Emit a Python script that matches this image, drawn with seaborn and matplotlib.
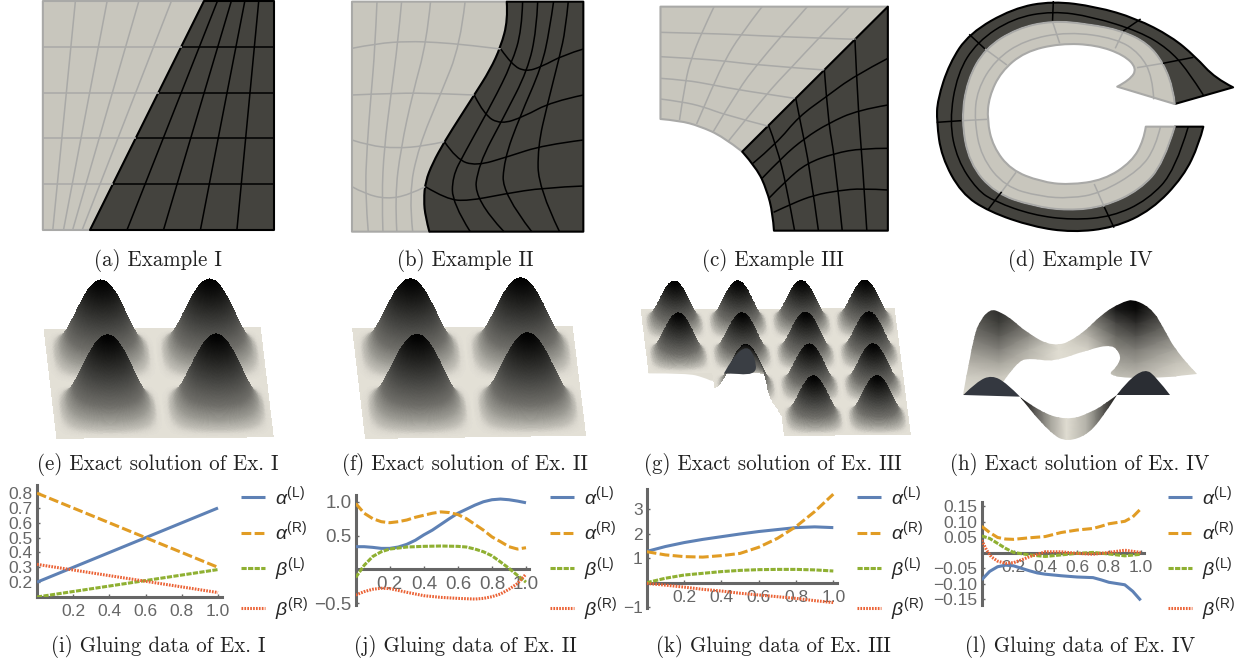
import numpy as np
import pandas as pd
import matplotlib
matplotlib.use("Agg")
import matplotlib.pyplot as plt
import seaborn as sns
from matplotlib.colors import LinearSegmentedColormap
from matplotlib.patches import PathPatch
from matplotlib.path import Path

sns.set_theme(style="white")
plt.rcParams['font.family'] = ['Liberation Sans', 'DejaVu Sans']
plt.rcParams['mathtext.fontset'] = 'custom'
plt.rcParams['mathtext.rm'] = 'Liberation Sans'
plt.rcParams['mathtext.it'] = 'Liberation Sans:italic'
plt.rcParams['mathtext.bf'] = 'Liberation Sans:bold'

# ---- gluing data ----
T2 = [0.0, 1.0]
T20 = [0, .05, .1, .15, .2, .25, .3, .35, .4, .45, .5, .55, .6, .65, .7, .75, .8, .85, .9, .95, 1]
T10 = [0, .1, .2, .3, .4, .5, .6, .7, .8, .9, 1]

I_AL = [.2, .7]
I_AR = [.8, .3]
I_BL = [.1, .285]
I_BR = [.32, .13]

J_AL = [.335, .335, .325, .31, .31, .33, .37, .43, .51, .58, .665, .75, .83, .89, .95, 1.0, 1.03, 1.04, 1.03, 1.01, .985]
J_AR = [.975, .83, .75, .705, .69, .705, .73, .77, .80, .83, .85, .84, .81, .75, .665, .58, .48, .41, .335, .30, .32]
J_BL_T = [0, .05, .1, .15, .2, .25, .3, .4, .5, .6, .65, .7, .75, .8, .85, .9, .95, 1]
J_BL = [-.12, .06, .19, .26, .30, .315, .33, .34, .345, .34, .33, .30, .26, .2, .11, .015, -.09, -.19]
J_BR_T = [0, .05, .1, .15, .2, .3, .4, .5, .6, .7, .75, .8, .85, .9, .95, 1]
J_BR = [-.38, -.33, -.295, -.28, -.285, -.34, -.39, -.415, -.43, -.44, -.43, -.405, -.365, -.295, -.21, -.07]

K_AL = [1.27, 1.47, 1.63, 1.76, 1.87, 1.98, 2.08, 2.16, 2.24, 2.27, 2.24]
K_AR = [1.26, 1.13, 1.06, 1.04, 1.10, 1.19, 1.44, 1.80, 2.28, 2.89, 3.6]
K_BL = [0, .18, .31, .38, .45, .50, .53, .54, .54, .52, .475]
K_BR = [-.03, -.1, -.18, -.27, -.34, -.43, -.5, -.57, -.64, -.73, -.81]

L_AL_T = [0, .05, .1, .15, .2, .25, .3, .35, .4, .5, .6, .7, .75, .8, .85, .9, .95, 1]
L_AL = [-.087, -.06, -.045, -.04, -.042, -.05, -.058, -.065, -.069, -.074, -.078, -.08, -.087, -.095, -.099, -.103, -.124, -.153]
L_AR_T = [0, .05, .1, .15, .2, .3, .4, .5, .6, .7, .75, .8, .9, .95, 1]
L_AR = [.085, .065, .049, .044, .043, .048, .052, .065, .073, .078, .085, .093, .101, .115, .141]
L_BL_T = [0, .05, .1, .15, .2, .3, .4, .5, .6, .7, .8, .9, 1]
L_BL = [.054, .046, .03, .014, .001, -.007, -.012, -.007, -.002, .001, -.004, -.01, -.005]
L_BR_T = [0, .03, .06, .1, .15, .2, .25, .3, .4, .5, .6, .7, .8, .9, 1]
L_BR = [.04, .009, -.013, -.027, -.034, -.032, -.023, -.013, .003, .003, -.002, -.005, .001, .008, .001]

NAMES = [r'$\alpha^{(\mathrm{L})}$', r'$\alpha^{(\mathrm{R})}$', r'$\beta^{(\mathrm{L})}$', r'$\beta^{(\mathrm{R})}$']
COLORS = ['#5E81B5', '#E19C24', '#8FB032', '#EB6235']
DASHES = [(1, 0), (3.2, 1.1), (1.7, .45), (.55, .4)]

# ---- captions ----
CAPTIONS_TOP = ['(a) Example I', '(b) Example II', '(c) Example III', '(d) Example IV']
CAPTIONS_MID = ['(e) Exact solution of Ex. I', '(f) Exact solution of Ex. II',
                '(g) Exact solution of Ex. III', '(h) Exact solution of Ex. IV']
CAPTIONS_BOT = ['(i) Gluing data of Ex. I', '(j) Gluing data of Ex. II',
                '(k) Gluing data of Ex. III', '(l) Gluing data of Ex. IV']
CAPTION_X = [158, 465, 773, 1080]

# ---- mesh outlines, in crop coordinates (see crop()) ----
A_LIGHT = [(108, 3), (515, 3), (228, 690), (108, 690)]
A_DARK = [(515, 3), (690, 3), (690, 690), (228, 690)]
A_LIGHT_V = [[(190, 3), (133, 690)], [(270, 3), (160, 690)], [(350, 3), (183, 690)], [(432, 3), (207, 690)]]
A_DARK_V = [[(548, 3), (320, 690)], [(583, 3), (412, 690)], [(617, 3), (505, 690)], [(652, 3), (597, 690)]]
A_ROWS = [141, 279, 415, 552]
A_ROW_SPLIT = [458, 400, 343, 286]

B_SPLIT = [(1277, 5), (1280, 60), (1262, 140), (1235, 210), (1195, 285), (1160, 350), (1120, 425),
           (1090, 490), (1072, 545), (1068, 600), (1072, 650), (1082, 695)]
B_LIGHT_H = [[(887, 145), (950, 130), (1030, 124), (1100, 127), (1180, 135), (1262, 147)],
             [(887, 285), (1000, 279), (1100, 280), (1195, 285)],
             [(887, 420), (930, 437), (1000, 445), (1070, 438), (1120, 425)],
             [(887, 560), (920, 582), (975, 597), (1030, 585), (1072, 560)]]
B_LIGHT_V = [[(950, 5), (945, 145), (935, 285), (925, 437), (920, 582), (928, 695)],
             [(1012, 5), (1003, 124), (985, 285), (968, 445), (962, 590), (965, 695)],
             [(1085, 5), (1075, 127), (1040, 280), (1010, 445), (995, 590), (1000, 695)],
             [(1172, 5), (1160, 135), (1110, 283), (1055, 440), (1030, 585), (1040, 695)]]
B_DARK_H = [[(1262, 147), (1290, 195), (1325, 215), (1365, 200), (1420, 165), (1470, 147)],
            [(1195, 285), (1220, 345), (1262, 373), (1320, 350), (1390, 305), (1470, 285)],
            [(1120, 425), (1150, 478), (1200, 498), (1280, 470), (1370, 435), (1470, 420)],
            [(1072, 560), (1125, 598), (1180, 603), (1270, 582), (1370, 563), (1470, 558)]]
B_DARK_V = [[(1317, 5), (1315, 90), (1290, 190), (1240, 310), (1170, 460), (1140, 530), (1140, 610), (1185, 695)],
            [(1355, 5), (1352, 90), (1330, 210), (1270, 350), (1205, 495), (1195, 600), (1270, 695)],
            [(1395, 5), (1385, 90), (1365, 200), (1310, 350), (1270, 480), (1266, 582), (1340, 695)],
            [(1432, 5), (1425, 90), (1410, 170), (1380, 310), (1355, 440), (1357, 565), (1410, 695)]]

C_ARC = [(388, 692), (385, 640), (370, 570), (345, 505), (308, 455), (260, 410), (200, 378), (150, 362), (102, 357)]
C_LIGHT_A = [[(237, 20), (205, 100), (180, 175), (165, 240), (150, 360)],
             [(358, 20), (300, 110), (265, 180), (235, 255), (193, 372)],
             [(472, 20), (405, 110), (345, 195), (300, 265), (235, 395)],
             [(578, 20), (500, 115), (430, 205), (370, 280), (272, 425)]]
C_LIGHT_B = [[(102, 97), (205, 100), (300, 104), (400, 110), (595, 118)],
             [(102, 170), (180, 175), (265, 183), (345, 195), (515, 210)],
             [(102, 235), (165, 240), (235, 255), (300, 270), (440, 295)],
             [(102, 297), (155, 305), (210, 320), (265, 345), (372, 378)]]
C_DARK_A = [[(592, 118), (600, 330), (610, 470), (622, 692)],
            [(515, 210), (525, 370), (540, 460), (560, 692)],
            [(443, 295), (455, 370), (478, 500), (500, 692)],
            [(375, 378), (395, 440), (420, 560), (440, 692)]]
C_DARK_B = [[(675, 175), (590, 228), (520, 290), (450, 350), (395, 430), (335, 490)],
            [(675, 315), (600, 330), (525, 370), (465, 415), (410, 470), (358, 535)],
            [(675, 445), (610, 445), (540, 460), (470, 490), (420, 540), (375, 595)],
            [(675, 570), (610, 565), (550, 572), (490, 585), (435, 610), (387, 637)]]

D_OUTER = [(1545, 262), (1500, 235), (1450, 170), (1390, 110), (1300, 55), (1200, 20), (1090, 3), (990, 25), (880, 100),
           (830, 190), (800, 300), (798, 365), (810, 470), (860, 580), (930, 635), (1040, 680), (1140, 697), (1245, 683),
           (1340, 630), (1420, 530), (1460, 430), (1470, 380)]
D_SPLIT = [(1398, 312), (1395, 270), (1370, 190), (1330, 130), (1265, 92), (1180, 72), (1090, 62), (1000, 85), (920, 145),
           (875, 240), (860, 360), (880, 490), (945, 580), (1040, 618), (1130, 632), (1220, 620), (1310, 570), (1370, 490),
           (1398, 380)]
D_INNER = [(1325, 380), (1320, 420), (1290, 485), (1220, 540), (1130, 555), (1060, 545), (985, 510), (940, 440), (925, 360),
           (930, 290), (960, 215), (1020, 155), (1110, 130), (1200, 135), (1270, 165), (1303, 205), (1285, 240), (1253, 260)]
D_DARK_MID = [(1470, 285), (1430, 210), (1380, 145), (1310, 95), (1190, 50), (1090, 33), (990, 55), (900, 125), (850, 220),
              (830, 365), (850, 480), (900, 570), (945, 605), (1040, 645), (1140, 660), (1240, 650), (1330, 600), (1400, 510),
              (1432, 380)]
D_LIGHT_MID = [(1345, 298), (1342, 230), (1310, 160), (1250, 115), (1130, 95), (1020, 120), (945, 180), (900, 270), (893, 360),
               (910, 470), (970, 560), (1060, 590), (1135, 595), (1210, 580), (1310, 510), (1350, 440), (1362, 380)]
D_DARK_X = [[(1092, 3), (1090, 62)], [(1312, 57), (1268, 93)], [(880, 103), (920, 147)], [(798, 367), (860, 362)],
            [(928, 628), (962, 575)], [(1245, 683), (1220, 620)], [(1368, 190), (1445, 172)]]
D_LIGHT_X = [[(1090, 65), (1108, 130)], [(1268, 95), (1248, 145)], [(920, 147), (975, 195)], [(862, 362), (925, 358)],
             [(962, 575), (998, 517)], [(1220, 620), (1195, 552)], [(1368, 190), (1303, 203)]]

# ---- surfaces: ground corners back-left, back-right, front-left, front-right (crop coordinates) ----
E_CORNERS = [(110, 268), (657, 262), (142, 596), (690, 592)]
F_CORNERS = [(887, 263), (1443, 258), (920, 597), (1477, 587)]
G_CORNERS = [(52, 208), (692, 204), (92, 590), (733, 585)]
BUMP_PROFILE = [0, .024, .095, .206, .345, .5, .655, .794, .905, .976, 1, .976, .905, .794, .655, .5, .345, .206, .095, .024, 0]
G_CUT_V = [.5, .62, .621, .7, .76, .85, 1]
G_CUT_U = [.25, .25, .44, .46, .48, .5, .5]
G_UNDERSIDE = [(262, 400), (285, 350), (320, 316), (340, 350), (345, 408), (300, 402)]
G_DIP = [(72, 400), (170, 400), (210, 412), (240, 428), (265, 400), (240, 380), (72, 380)]

H_X = [865, 955, 1030, 1105, 1180, 1250, 1300, 1400, 1480]
H_Y = [170, 210, 250, 290, 330, 370, 410, 470]
H_Z = [[.60, .60, .50, .42, .30, .18, .08, .0],
       [.82, .80, .72, .58, .42, .25, .10, .0],
       [.60, .58, .50, .36, .20, .12, .03, .0],
       [.12, .12, .06, .02, .00, .00, .00, .0],
       [.45, .45, .34, .18, .06, .02, .00, .0],
       [.95, .88, .68, .52, .38, .26, .14, .0],
       [1.0, .96, .80, .62, .44, .30, .16, .0],
       [.66, .60, .50, .38, .24, .12, .04, .0],
       [.45, .42, .34, .24, .14, .05, .00, .0]]
H_BACK_TOP = [(865, 465), (873, 410), (890, 300), (911, 230), (937, 205), (975, 225), (1025, 280), (1092, 320), (1151, 295),
              (1218, 220), (1260, 188), (1293, 176), (1335, 200), (1369, 260), (1403, 340), (1453, 402)]
H_BACK_BOT = [(1380, 412), (1300, 418), (1226, 405), (1252, 380), (1264, 350), (1243, 312), (1176, 330), (1092, 365),
              (1033, 355), (1000, 365), (966, 425)]
H_LEFT_PEAK = [(865, 465), (899, 425), (937, 405), (975, 430), (1008, 470)]
H_RIGHT_PEAK = [(1252, 465), (1277, 425), (1323, 385), (1352, 412), (1386, 465)]
H_FRONT_X = [1008, 1045, 1085, 1125, 1176, 1218, 1260]
H_FRONT_Z = [.95, .6, .25, 0, .2, .6, .95]
H_FRONT_TOP = [(1008, 470), (1058, 515), (1125, 540), (1184, 520), (1235, 480), (1268, 450), (1277, 425)]
H_FRONT_BOT = [(1252, 465), (1218, 530), (1176, 585), (1130, 605), (1084, 580), (1041, 520)]

SURF = LinearSegmentedColormap.from_list('surf', [(0, '#e3e0d6'), (.02, '#dbd8cf'), (.06, '#bfbdb5'), (.15, '#9a9992'),
                                                  (.3, '#6e6d68'), (.55, '#454542'), (.8, '#1e1e1c'), (1, '#000000')])
SHEET = LinearSegmentedColormap.from_list('sheet', ['#e0ddd2', '#000000'])
LIGHT, DARK = '#c8c6bd', '#44433e'
LIGHT_LINE, DARK_LINE = '#a9a9a7', '#000000'


def crop(points, x0=0, y0=0):
    return [(x / 2.52 + x0, y / 3 + y0) for x, y in points]


def smooth_path(chains, closed=True):
    # each chain is rounded with quadratic pieces, chain ends stay sharp corners
    verts, codes = [], []
    for chain in chains:
        verts.append(chain[0])
        codes.append(Path.LINETO if verts[:-1] else Path.MOVETO)
        for a, b in zip(chain[1:-1], chain[2:]):
            mid = b if b is chain[-1] else ((a[0] + b[0]) / 2, (a[1] + b[1]) / 2)
            verts += [a, mid]
            codes += [Path.CURVE3, Path.CURVE3]
        if len(chain) == 2:
            verts.append(chain[1])
            codes.append(Path.LINETO)
    if closed:
        verts.append(verts[0])
        codes.append(Path.CLOSEPOLY)
    return Path(verts, codes)


def region(ax, chains, fc, ec, lw=1.5, zorder=2):
    patch = PathPatch(smooth_path(chains), fc=fc, ec=ec, lw=lw, joinstyle='round', zorder=zorder)
    ax.add_patch(patch)
    return patch


def polygon(ax, points, fc, ec, lw=1.5):
    xs, ys = zip(*points)
    ax.fill(xs, ys, fc=fc, ec=ec, lw=lw, joinstyle='round', zorder=2)


def strokes(ax, lines, color, lw=1.1, zorder=3):
    for line in lines:
        ax.add_patch(PathPatch(smooth_path([line], closed=False), fc='none', ec=color, lw=lw, zorder=zorder))


def draw_surface(ax, corners, bumps, height, x0, cut=None):
    bl, br, fl, fr = [np.array(c, float) for c in corners]
    u, v = np.meshgrid(np.linspace(0, 1, 420), np.linspace(0, 1, 420))
    prof_pos = np.linspace(0, 1, len(BUMP_PROFILE))
    z = np.interp((u * bumps) % 1, prof_pos, BUMP_PROFILE) * np.interp((v * bumps) % 1, prof_pos, BUMP_PROFILE)
    gx = (1 - v) * ((1 - u) * bl[0] + u * br[0]) + v * ((1 - u) * fl[0] + u * fr[0])
    gy = (1 - v) * ((1 - u) * bl[1] + u * br[1]) + v * ((1 - u) * fl[1] + u * fr[1]) - height * z
    if cut is not None:
        z = np.ma.masked_where(cut(u, v), z)
    ax.pcolormesh(gx / 2.52 + x0, gy / 3 + 240, z[:-1, :-1], cmap=SURF, vmin=0, vmax=1, shading='flat',
                  edgecolors='none', antialiased=False, zorder=2)


def gluing_panel(fig, x0, x1, y_top, y_bot, ylim, series, yticks, yticklabels, legend_x, cross, labelsize):
    W, H = 1236, 666
    x_end = x1 + .02 * (x1 - x0)
    ax = fig.add_axes([x0 / W, 1 - y_bot / H, (x_end - x0) / W, (y_bot - y_top) / H], facecolor='none')
    df = pd.concat([pd.DataFrame({'t': t, 'value': vals, 'series': name}) for name, (t, vals) in zip(NAMES, series)])
    sns.lineplot(data=df, x='t', y='value', hue='series', style='series', hue_order=NAMES, style_order=NAMES,
                 palette=dict(zip(NAMES, COLORS)), dashes=dict(zip(NAMES, DASHES)), linewidth=2.2,
                 errorbar=None, ax=ax, zorder=3)
    ax.set_xlim(0, 1.02)
    ax.set_ylim(*ylim)
    ax.set_xlabel('')
    ax.set_ylabel('')
    for side in ['top', 'right']:
        ax.spines[side].set_visible(False)
    for side in ['left', 'bottom']:
        ax.spines[side].set_color('#666666')
        ax.spines[side].set_linewidth(2.2)
    ax.spines['left'].set_position(('data', 0))
    ax.spines['bottom'].set_position(('data', cross))
    ax.set_xticks([.2, .4, .6, .8, 1.0], ['0.2', '0.4', '0.6', '0.8', '1.0'])
    ax.set_yticks(yticks, yticklabels)
    ax.tick_params(axis='both', direction='in', length=2.5, width=1, color='#666666', labelcolor='#666666',
                   labelsize=labelsize, bottom=True, left=True)
    ax.tick_params(axis='x', pad=5)
    ax.tick_params(axis='y', pad=3)
    ax.legend(loc='upper left', bbox_to_anchor=(legend_x / W, 1 - 484 / H), bbox_transform=fig.transFigure, frameon=False,
              fontsize=14, handlelength=1.24, handletextpad=.5, labelspacing=.6, borderpad=0, borderaxespad=0)
    return ax


fig = plt.figure(figsize=(12.36, 6.66), dpi=100)
bg = fig.add_axes([0, 0, 1, 1])
bg.set_xlim(0, 1236)
bg.set_ylim(666, 0)
bg.axis('off')

# panel a
polygon(bg, crop(A_LIGHT), LIGHT, LIGHT_LINE)
polygon(bg, crop(A_DARK), DARK, DARK_LINE)
strokes(bg, [crop(l) for l in A_LIGHT_V], LIGHT_LINE)
strokes(bg, [crop(l) for l in A_DARK_V], DARK_LINE)
for y, split in zip(A_ROWS, A_ROW_SPLIT):
    strokes(bg, [crop([(108, y), (split, y)])], LIGHT_LINE)
    strokes(bg, [crop([(split, y), (690, y)])], DARK_LINE)

# panel b
region(bg, [crop([(887, 5), (1277, 5)]), crop(B_SPLIT), crop([(1082, 695), (887, 695)])], LIGHT, LIGHT_LINE)
region(bg, [crop(B_SPLIT), crop([(1082, 695), (1470, 695)]), crop([(1470, 695), (1470, 5)])], DARK, DARK_LINE)
strokes(bg, [crop(l) for l in B_LIGHT_H + B_LIGHT_V], LIGHT_LINE)
strokes(bg, [crop(l) for l in B_DARK_H + B_DARK_V], DARK_LINE)

# panel c
split_c = [(675, 20), (308, 455)]
region(bg, [crop([(102, 20), (675, 20)], 620), crop(split_c, 620), crop(C_ARC[4:], 620)], LIGHT, LIGHT_LINE)
region(bg, [crop([(675, 20), (675, 692)], 620), crop(C_ARC[:5], 620)], DARK, DARK_LINE)
strokes(bg, [crop(l, 620) for l in C_LIGHT_A + C_LIGHT_B], LIGHT_LINE)
strokes(bg, [crop(l, 620) for l in C_DARK_A + C_DARK_B], DARK_LINE)

# panel d
region(bg, [crop(D_OUTER, 620), crop([(1470, 380), (1398, 380)], 620), crop(D_SPLIT[::-1], 620)], DARK, DARK_LINE)
region(bg, [crop(D_SPLIT, 620), crop([(1398, 380), (1325, 380)], 620), crop(D_INNER, 620)], LIGHT, LIGHT_LINE)
strokes(bg, [crop(D_DARK_MID, 620)] + [crop(l, 620) for l in D_DARK_X], DARK_LINE)
strokes(bg, [crop(D_LIGHT_MID, 620)] + [crop(l, 620) for l in D_LIGHT_X], LIGHT_LINE)

# panels e, f, g
draw_surface(bg, E_CORNERS, 2, 228, 0)
draw_surface(bg, F_CORNERS, 2, 228, 0)
draw_surface(bg, G_CORNERS, 4, 132, 620, cut=lambda u, v: (v > .5) & (u < np.interp(v, G_CUT_V, G_CUT_U)))
region(bg, [crop(G_DIP, 620, 240)], '#e0ddd3', 'none', lw=0, zorder=1)
region(bg, [crop(G_UNDERSIDE, 620, 240)], '#3a3e44', 'none', lw=0, zorder=3)

# panel h
mesh = bg.pcolormesh(np.array(H_X) / 2.52 + 620, np.array(H_Y) / 3 + 240, np.array(H_Z).T, cmap=SHEET, vmin=0, vmax=1,
                     shading='gouraud', zorder=2)
mesh.set_clip_path(region(bg, [crop(H_BACK_TOP, 620, 240), crop(H_BACK_BOT, 620, 240)], 'none', 'none', lw=0))
region(bg, [crop(H_LEFT_PEAK, 620, 240)], '#343840', 'none', lw=0, zorder=3)
region(bg, [crop(H_RIGHT_PEAK, 620, 240)], '#2a2d33', 'none', lw=0, zorder=3)
front = bg.pcolormesh(np.array(H_FRONT_X) / 2.52 + 620, np.array([460, 610]) / 3 + 240, np.array([H_FRONT_Z, H_FRONT_Z]),
                      cmap=SHEET, vmin=0, vmax=1, shading='gouraud', zorder=4)
front.set_clip_path(region(bg, [crop(H_FRONT_TOP, 620, 240), crop(H_FRONT_BOT, 620, 240)], 'none', 'none', lw=0))

# captions
for labels, y in [(CAPTIONS_TOP, 260), (CAPTIONS_MID, 464), (CAPTIONS_BOT, 647)]:
    for label, x in zip(labels, CAPTION_X):
        bg.text(x, y, label, family='cmr10', fontsize=15.1, color='#222222', ha='center', va='center')

# gluing data panels
gluing_panel(fig, 37, 218, 485, 597, (.1, .855),
             [(T2, I_AL), (T2, I_AR), (T2, I_BL), (T2, I_BR)],
             [.2, .3, .4, .5, .6, .7, .8], ['0.2', '0.3', '0.4', '0.5', '0.6', '0.7', '0.8'], 241, .1, 12.5)
gluing_panel(fig, 355.7, 526, 495, 605, (-.528, 1.1),
             [(T20, J_AL), (T20, J_AR), (J_BL_T, J_BL), (J_BR_T, J_BR)],
             [-.5, .5, 1.0], ['\u22120.5', '0.5', '1.0'], 550, 0, 13.5)
gluing_panel(fig, 646.7, 833.3, 489, 608, (-1.03, 3.81),
             [(T10, K_AL), (T10, K_AR), (T10, K_BL), (T10, K_BR)],
             [-1, 1, 2, 3], ['\u22121', '1', '2', '3'], 857, 0, 12.5)
gluing_panel(fig, 981.7, 1140.7, 501.7, 605, (-.168, .164),
             [(L_AL_T, L_AL), (L_AR_T, L_AR), (L_BL_T, L_BL), (L_BR_T, L_BR)],
             [-.15, -.1, -.05, .05, .1, .15], ['\u22120.15', '\u22120.10', '\u22120.05', '0.05', '0.10', '0.15'], 1168, 0, 12.5)

fig.savefig('out.png', dpi=100)
